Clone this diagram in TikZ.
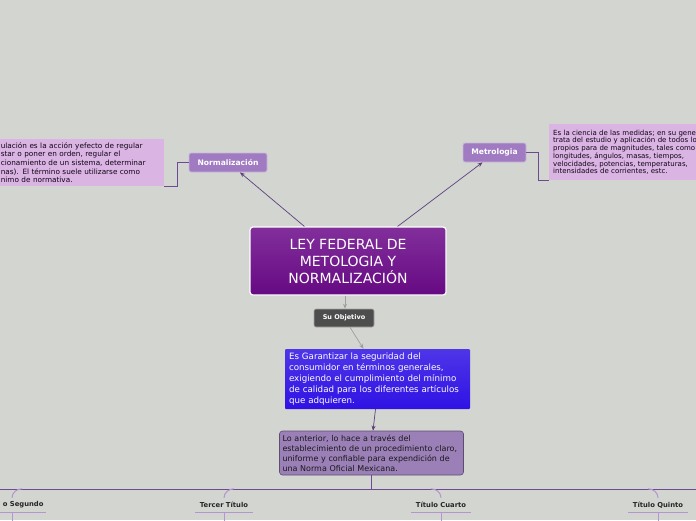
\documentclass[tikz,border=0pt]{standalone}
\usepackage{fontspec}
\setmainfont{DejaVu Sans}
\usetikzlibrary{calc}
\usetikzlibrary{arrows.meta}

\definecolor{bgcol}{HTML}{D3D5D1}
\definecolor{leycol}{HTML}{6C0A8A}
\definecolor{topiccol}{HTML}{A07BC1}
\definecolor{notecol}{HTML}{DAB5E3}
\definecolor{objcol}{HTML}{4D4D4D}
\definecolor{bluecol}{HTML}{2F12E4}
\definecolor{viacol}{HTML}{9B80B8}
\definecolor{linecol}{HTML}{6F4A94}
\definecolor{branchcol}{HTML}{B396CF}

\tikzset{
  central/.style={draw=white, line width=1.2pt, rounded corners=3pt, top color=leycol!85!white, bottom color=leycol!95!black, text=white, align=center, minimum width=196, minimum height=68, font=\fontsize{14}{17}\selectfont},
  topic/.style={draw=topiccol!55!white, line width=0.8pt, rounded corners=2pt, fill=topiccol, text=white, minimum height=19, inner xsep=3pt, font=\bfseries\fontsize{7.6}{8}\selectfont},
  notebox/.style={fill=notecol, text=black!85!leycol, align=left, inner xsep=4pt, inner ysep=0pt},
  objetivo/.style={draw=gray!70, line width=0.6pt, rounded corners=2pt, fill=objcol, text=white, minimum width=60, minimum height=18, font=\bfseries\fontsize{6.5}{7}\selectfont},
  bluebox/.style={rounded corners=1pt, top color=bluecol!85!white, bottom color=bluecol, text=white, align=left, text width=177, inner xsep=4pt, minimum height=60, font=\fontsize{8.7}{11}\selectfont},
  viabox/.style={draw=viacol!60!black, line width=0.6pt, rounded corners=3pt, fill=viacol, text=black!90, align=left, text width=178, inner xsep=3pt, minimum height=44, font=\fontsize{8}{10}\selectfont},
  titlelbl/.style={minimum width=58, minimum height=14, inner sep=0pt, text=black!85, font=\bfseries\fontsize{6.8}{7}\selectfont},
  mainarrow/.style={draw=linecol!85!black, line width=0.7pt, -{Stealth[length=5pt,width=4pt]}},
  grayarrow/.style={draw=gray!75, line width=0.7pt, -{Stealth[length=5pt,width=4pt]}},
  notelink/.style={draw=linecol, line width=0.6pt},
  branchline/.style={draw=branchcol, line width=1pt},
}

\begin{document}
\begin{tikzpicture}[x=1pt, y=-1pt]
  \fill[bgcol] (0,0) rectangle (696,520);
  \useasboundingbox (0,0) rectangle (696,520);

  \node[central] (ley) at (348, 261) {LEY FEDERAL DE\\METOLOGIA Y\\NORMALIZACIÓN};

  \node[topic, minimum width=78] (norm) at (228, 162.5) {Normalización};
  \node[topic, minimum width=63] (metro) at (494.5, 152.5) {Metrologia};

  \node[notebox, anchor=north east, text width=159, minimum height=47, font=\fontsize{7.3}{8.7}\selectfont] (normbox) at (164, 139)
    {ulación es la acción yefecto de regular\\star o poner en orden, regular el\\cionamiento de un sistema, determinar\\nas). El término suele utilizarse como\\nimo de normativa.};
  \node[notebox, anchor=north west, text width=170, minimum height=56, font=\fontsize{7}{7.7}\selectfont] (metrobox) at (549, 124)
    {Es la ciencia de las medidas; en su gene\\trata del estudio y aplicación de todos lo\\propios para de magnitudes, tales como\\longitudes, ángulos, masas, tiempos,\\velocidades, potencias, temperaturas,\\intensidades de corrientes, estc.};

  \node[objetivo] (suobj) at (344, 318) {Su Objetivo};
  \node[bluebox] (objbox) at (377.5, 379)
    {Es Garantizar la seguridad del\\consumidor en términos generales,\\exigiendo el cumplimiento del mínimo\\de calidad para los diferentes artículos\\que adquieren.};
  \node[viabox] (via) at (371.5, 453)
    {Lo anterior, lo hace a través del\\establecimiento de un procedimiento claro,\\uniforme y confiable para expendición de\\una Norma Oficial Mexicana.};

  \node[titlelbl, anchor=west, minimum width=46, align=left] (tsegundo) at (0, 505) {o Segundo};
  \node[titlelbl] (ttercer) at (224, 505) {Tercer Título};
  \node[titlelbl, minimum width=60] (tcuarto) at (441, 505) {Título Cuarto};
  \node[titlelbl, minimum width=60] (tquinto) at (658, 505) {Título Quinto};

  \coordinate (trunk) at (371, 489);
  \coordinate (hleft) at (-2, 489);
  \coordinate (hright) at (698, 489);
  \coordinate (bottom) at (0, 522);

  \draw[mainarrow] ($(ley.north west)+(55,0)$) -- ($(norm.south)+(12,0)$);
  \draw[mainarrow] ($(ley.north east)+(-49,0)$) -- ($(metro.south)+(-12,0)$);
  \draw[notelink] (norm.west) -- ++(-11,0) |- (normbox.south east);
  \draw[notelink] (metro.east) -- ++(12,0) |- (metrobox.south west);

  \draw[grayarrow] ($(ley.south)+(-3,0)$) -- ($(suobj.north)+(1,0)$);
  \draw[grayarrow] ($(suobj.south)+(6,0)$) -- ($(objbox.north)+(-14,0)$);
  \draw[mainarrow] ($(objbox.south)+(-2,0)$) -- ($(via.north)+(1.5,0)$);

  \draw[linecol, line width=0.8pt] (via.south -| trunk) -- (trunk);
  \draw[linecol, line width=0.8pt] (hleft) -- (hright);

  \draw[branchline] ($(tsegundo.north west)+(12,0)$) to[out=90, in=180] ($(tsegundo.north west)+(22,-9)$);
  \draw[branchline] (ttercer.north) to[out=90, in=180] ($(ttercer.north)+(10,-9)$);
  \draw[branchline] (tcuarto.north) to[out=90, in=0] ($(tcuarto.north)+(-10,-9)$);
  \draw[branchline] (tquinto.north) to[out=90, in=0] ($(tquinto.north)+(-10,-9)$);

  \draw[branchline] (tsegundo.south west) -- (tsegundo.south east);
  \draw[branchline] (ttercer.south west) -- (ttercer.south east);
  \draw[branchline] (tcuarto.south west) -- (tcuarto.south east);
  \draw[branchline] (tquinto.south west) -- (tquinto.south east);

  \draw[branchline] ($(tsegundo.south west)+(12,0)$) -- ($(tsegundo.south west |- bottom)+(12,0)$);
  \draw[branchline] (ttercer.south) -- (ttercer.south |- bottom);
  \draw[branchline] (tcuarto.south) -- (tcuarto.south |- bottom);
  \draw[branchline] (tquinto.south) -- (tquinto.south |- bottom);
\end{tikzpicture}
\end{document}
